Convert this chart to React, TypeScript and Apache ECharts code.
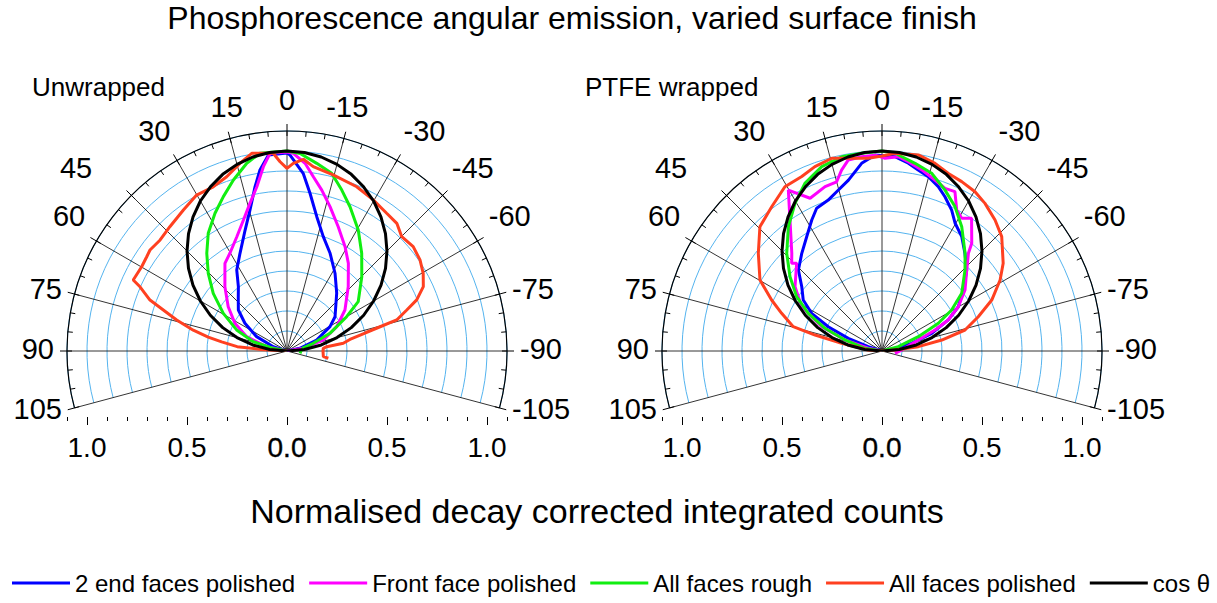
import React, { useEffect, useRef } from "react";
import * as echarts from "echarts";

const FONT = "'Liberation Sans', Arial, Helvetica, sans-serif";

// Angle axis ticks (degrees), radius range
const angleMin = -105;
const angleMax = 105;
const radiusMax = 1.1;

const seriesNames = [
  "2 end faces polished",
  "Front face polished",
  "All faces rough",
  "All faces polished",
  "cos θ",
];
const seriesColors = ["#0000ff", "#ff00ff", "#11ee11", "#ff4020", "#000000"];

// Each pair: [angle (deg), normalised counts]
const cosTheta: [number, number][] = [
  [90, 0], [85, 0.087], [80, 0.174], [75, 0.259], [70, 0.342], [65, 0.423], [60, 0.5],
  [55, 0.574], [50, 0.643], [45, 0.707], [40, 0.766], [35, 0.819], [30, 0.866],
  [25, 0.906], [20, 0.94], [15, 0.966], [10, 0.985], [5, 0.996], [0, 1],
  [-5, 0.996], [-10, 0.985], [-15, 0.966], [-20, 0.94], [-25, 0.906], [-30, 0.866],
  [-35, 0.819], [-40, 0.766], [-45, 0.707], [-50, 0.643], [-55, 0.574], [-60, 0.5],
  [-65, 0.423], [-70, 0.342], [-75, 0.259], [-80, 0.174], [-85, 0.087], [-90, 0],
];

// ---- Unwrapped ----
const unwrappedEndFaces: [number, number][] = [
  [90, 0], [72.6, 0.072], [64.7, 0.168], [56.6, 0.252], [49.9, 0.318], [42.6, 0.36],
  [37.1, 0.403], [31.8, 0.477], [25.7, 0.542], [19.1, 0.64], [14.7, 0.729], [11, 0.837],
  [8.5, 0.915], [5.4, 0.984], [0, 0.99], [-0.9, 0.98], [-5.2, 0.892], [-8.3, 0.797],
  [-12.5, 0.688], [-17.6, 0.6], [-23.8, 0.534], [-31.7, 0.457], [-40.7, 0.381],
  [-54.5, 0.295], [-60.5, 0.247], [-69.7, 0.158], [-78, 0.066], [-90, 0],
];
const unwrappedFrontFace: [number, number][] = [
  [90, 0], [78, 0.104], [70.5, 0.214], [62, 0.295], [53, 0.368], [44, 0.447],
  [35.3, 0.537], [30.3, 0.566], [23.7, 0.624], [18.4, 0.69], [14.1, 0.761],
  [10.4, 0.835], [7.3, 0.929], [4.9, 0.992], [0, 0.995], [-1.8, 0.989], [-5.5, 0.943],
  [-8.6, 0.881], [-12.2, 0.823], [-16.6, 0.753], [-22.4, 0.672], [-29.1, 0.597],
  [-35, 0.535], [-43.6, 0.444], [-54.7, 0.355], [-63.9, 0.277], [-73.1, 0.19],
  [-80.6, 0.083], [-90, 0],
];
const unwrappedRough: [number, number][] = [
  [90, 0], [79, 0.07], [74.6, 0.175], [67.3, 0.273], [59.4, 0.37], [52, 0.468],
  [45.4, 0.553], [39.4, 0.632], [33.8, 0.708], [27.6, 0.777], [22.4, 0.835],
  [17.4, 0.896], [12.1, 0.96], [7.8, 0.998], [0, 1.0], [-3.8, 0.99], [-9, 0.95],
  [-14.1, 0.916], [-18.8, 0.85], [-23.6, 0.787], [-30.5, 0.702], [-37.4, 0.615],
  [-45.2, 0.527], [-55.3, 0.433], [-60.1, 0.344], [-67.6, 0.232], [-73.7, 0.137],
  [-80, 0.08], [-90, 0.07], [-100, 0.066],
];
const unwrappedPolished: [number, number][] = [
  [90, 0], [86.5, 0.13], [85, 0.25], [82, 0.33], [80, 0.4], [77.5, 0.48], [74.3, 0.573],
  [69.6, 0.731], [66.4, 0.802], [65.2, 0.847], [59.9, 0.84], [56.1, 0.845],
  [53.6, 0.851], [48.8, 0.843], [43.3, 0.854], [36.3, 0.875], [30.1, 0.901],
  [24.2, 0.9], [19.1, 0.922], [14.1, 0.967], [10.1, 1.004], [4, 0.991], [2.1, 0.947],
  [0, 0.913], [-1.9, 0.939], [-4.9, 0.962], [-8.1, 0.931], [-14.7, 0.91], [-23, 0.892],
  [-29.7, 0.87], [-35.9, 0.85], [-40.7, 0.842], [-45.1, 0.81], [-50.4, 0.819],
  [-55.6, 0.806], [-60.3, 0.784], [-64.7, 0.754], [-68.5, 0.697], [-71.1, 0.633],
  [-74.2, 0.57], [-75.4, 0.481], [-77, 0.4], [-79.6, 0.32], [-82.2, 0.284],
  [-83.8, 0.2], [-85.7, 0.182], [-90, 0.18], [-98.9, 0.184], [-100, 0.21],
];

// ---- PTFE wrapped ----
const wrappedEndFaces: [number, number][] = [
  [90, 0], [72.6, 0.072], [69.4, 0.18], [65.7, 0.295], [61.8, 0.399], [57.1, 0.469],
  [51.3, 0.514], [45.9, 0.582], [39.4, 0.632], [33.4, 0.684], [28.2, 0.743],
  [24.6, 0.785], [19.6, 0.801], [15.9, 0.828], [11.1, 0.871], [6.2, 0.944], [2, 0.981],
  [-3.8, 0.974], [-8, 0.948], [-11.3, 0.923], [-14.9, 0.902], [-18.9, 0.869],
  [-22.2, 0.833], [-26.3, 0.786], [-29.8, 0.736], [-34.9, 0.697], [-40.3, 0.641],
  [-46.3, 0.586], [-53.1, 0.508], [-59.9, 0.441], [-64.9, 0.366], [-70.4, 0.264],
  [-75.5, 0.153], [-84, 0.049], [-90, 0],
];
const wrappedFrontFace: [number, number][] = [
  [90, 0], [78.8, 0.07], [73.4, 0.193], [68, 0.325], [61.1, 0.459], [53.5, 0.541],
  [44.2, 0.612], [45.8, 0.63], [42.7, 0.665], [35.1, 0.8], [30.2, 0.931], [25.2, 0.844],
  [19.1, 0.87], [15, 0.876], [12.6, 0.927], [10, 0.97], [6, 0.977], [2, 0.98],
  [-0.9, 0.964], [-4.8, 0.975], [-7.9, 0.956], [-12.4, 0.927], [-17.2, 0.895],
  [-21.2, 0.872], [-24.6, 0.876], [-27.9, 0.798], [-31, 0.774], [-34, 0.801],
  [-39.8, 0.701], [-41.5, 0.652], [-46.3, 0.586], [-53.7, 0.515], [-59.9, 0.441],
  [-64.9, 0.366], [-68.4, 0.285], [-73.1, 0.19], [-87, 0.099], [-100, 0.066],
];
const wrappedRough: [number, number][] = [
  [90, 0], [81, 0.086], [73.4, 0.193], [68.3, 0.307], [62.9, 0.414], [57.5, 0.506],
  [51.1, 0.591], [44.3, 0.682], [37, 0.778], [30.5, 0.857], [24.7, 0.923], [18.1, 0.97],
  [11.7, 0.992], [5.9, 0.994], [0, 1.0], [-3.8, 0.991], [-10, 0.953], [-15.6, 0.923],
  [-21.4, 0.864], [-26.8, 0.809], [-32.7, 0.738], [-40.4, 0.641], [-45.7, 0.58],
  [-54.1, 0.492], [-59.5, 0.404], [-63.8, 0.314], [-68.5, 0.195], [-75.2, 0.084],
  [-90, 0],
];
const wrappedPolished: [number, number][] = [
  [90, 0], [85.8, 0.069], [79.2, 0.205], [76.6, 0.344], [74.7, 0.46], [69.4, 0.536],
  [65.2, 0.608], [59.8, 0.706], [51.7, 0.788], [44.5, 0.871], [37.4, 0.908],
  [30.6, 0.954], [24.7, 0.96], [20, 0.981], [14.6, 0.996], [4.1, 0.966], [0, 0.975],
  [-3.8, 0.991], [-10.5, 0.997], [-15.8, 0.975], [-20.5, 0.948], [-25.2, 0.936],
  [-30.3, 0.922], [-34.9, 0.9], [-40.8, 0.865], [-46.3, 0.828], [-54.1, 0.748],
  [-59, 0.689], [-65.1, 0.605], [-70.4, 0.511], [-75.8, 0.428], [-79.6, 0.304],
  [-83.2, 0.183], [-85.6, 0.065], [-90, 0],
];

const panelTitles = ["Unwrapped", "PTFE wrapped"];
const panelData = [
  [unwrappedEndFaces, unwrappedFrontFace, unwrappedRough, unwrappedPolished, cosTheta],
  [wrappedEndFaces, wrappedFrontFace, wrappedRough, wrappedPolished, cosTheta],
];

export default function App() {
  const ref = useRef<HTMLDivElement>(null);
  useEffect(() => {
    if (!ref.current) return;
    const chart = echarts.init(ref.current, undefined, { renderer: "svg" });
    const centers = [
      [287, 351],
      [882, 351],
    ];
    const R = 220;

    const polar: any[] = [];
    const angleAxis: any[] = [];
    const radiusAxis: any[] = [];
    const grid: any[] = [];
    const xAxis: any[] = [];
    const yAxis: any[] = [];
    const series: any[] = [];

    const labelBase = { fontSize: 29, fontFamily: FONT, color: "#000" };

    centers.forEach((c, p) => {
      // main polar
      polar.push({ center: [c[0], c[1]], radius: R });
      angleAxis.push({
        polarIndex: polar.length - 1,
        type: "value",
        min: angleMin,
        max: angleMax,
        interval: 15,
        startAngle: -15,
        endAngle: 195,
        clockwise: false,
        axisLine: { show: true, lineStyle: { color: "#000", width: 1.2 } },
        axisTick: { show: true, inside: false, length: 7, lineStyle: { color: "#000", width: 1 } },
        axisLabel: {
          show: true,
          fontSize: 29,
          color: "#000",
          margin: 13,
          fontFamily: FONT,
          formatter: (v: number) => (v === 45 ? `{s|${v}}` : `{a|${v}}`),
          rich: {
            a: { ...labelBase, padding: [0, 0, 4, 0] },
            s: { ...labelBase, padding: [0, 30, 4, 0] },
          },
        },
        splitLine: { show: true, lineStyle: { color: "#000", width: 0.8 } },
        z: 1,
      });
      radiusAxis.push({
        polarIndex: polar.length - 1,
        type: "value",
        min: 0,
        max: radiusMax,
        interval: 0.1,
        axisLine: { show: false },
        axisTick: { show: false },
        axisLabel: { show: false },
        splitLine: { show: true, lineStyle: { color: "#55b4ef", width: 1 } },
      });
      const mainIdx = polar.length - 1;
      // minor tick polar
      polar.push({ center: [c[0], c[1]], radius: R });
      angleAxis.push({
        polarIndex: polar.length - 1,
        type: "value",
        min: angleMin,
        max: angleMax,
        interval: 5,
        startAngle: -15,
        endAngle: 195,
        clockwise: false,
        axisLine: { show: false },
        axisTick: { show: true, inside: true, length: 5, lineStyle: { color: "#000", width: 1 } },
        axisLabel: { show: false },
        splitLine: { show: false },
      });
      radiusAxis.push({
        polarIndex: polar.length - 1,
        type: "value",
        min: 0,
        max: radiusMax,
        show: false,
      });

      // bottom linear axis: minor ticks
      grid.push({ left: c[0] - R, width: 2 * R, top: 380, height: 37 });
      xAxis.push({
        gridIndex: grid.length - 1,
        type: "value",
        min: -1.1,
        max: 1.1,
        interval: 0.1,
        axisLine: { show: false },
        axisTick: { show: true, length: 4, lineStyle: { color: "#000" } },
        axisLabel: { show: false },
        splitLine: { show: false },
      });
      yAxis.push({ gridIndex: grid.length - 1, type: "value", show: false });
      // bottom linear axis: major ticks + labels
      grid.push({ left: c[0] - 200, width: 400, top: 380, height: 37 });
      xAxis.push({
        gridIndex: grid.length - 1,
        type: "value",
        min: -1,
        max: 1,
        interval: 0.5,
        axisLine: { show: false },
        axisTick: { show: true, length: 8, lineStyle: { color: "#000" } },
        axisLabel: {
          show: true,
          fontSize: 28,
          color: "#000",
          margin: 16,
          fontFamily: FONT,
          formatter: (v: number) =>
            Math.abs(v) < 1e-9 ? `{b|${Math.abs(v).toFixed(1)}}` : Math.abs(v).toFixed(1),
          rich: {
            b: {
              fontSize: 28,
              fontFamily: FONT,
              color: "#000",
              textBorderColor: "#000",
              textBorderWidth: 0.35,
            },
          },
        },
        splitLine: { show: false },
      });
      yAxis.push({ gridIndex: grid.length - 1, type: "value", show: false });

      panelData[p].forEach((d, i) => {
        series.push({
          name: seriesNames[i],
          type: "line",
          coordinateSystem: "polar",
          polarIndex: mainIdx,
          showSymbol: false,
          symbol: "none",
          smooth: false,
          color: seriesColors[i],
          lineStyle: { color: seriesColors[i], width: 3 },
          data: d.map(([a, r]) => [r, a]),
          z: 3,
        });
      });
    });

    chart.setOption({
      animation: false,
      textStyle: { fontFamily: FONT },
      polar,
      angleAxis,
      radiusAxis,
      grid,
      xAxis,
      yAxis,
      legend: {
        left: 12,
        top: 571,
        padding: 0,
        width: 1205,
        icon: "rect",
        itemWidth: 58,
        itemHeight: 3,
        itemGap: 14,
        textStyle: { fontSize: 24, color: "#000", fontFamily: FONT },
        data: seriesNames,
      },
      graphic: [
        {
          type: "text",
          x: 572,
          y: 18,
          style: {
            text: "Phosphorescence angular emission, varied surface finish",
            fontSize: 32,
            fontFamily: FONT,
            fill: "#000",
            textAlign: "center",
            textVerticalAlign: "middle",
          },
        },
        {
          type: "text",
          x: 32,
          y: 87,
          style: {
            text: panelTitles[0],
            fontSize: 26,
            fontFamily: FONT,
            fill: "#000",
            textAlign: "left",
            textVerticalAlign: "middle",
          },
        },
        {
          type: "text",
          x: 585,
          y: 87,
          style: {
            text: panelTitles[1],
            fontSize: 26,
            fontFamily: FONT,
            fill: "#000",
            textAlign: "left",
            textVerticalAlign: "middle",
          },
        },
        {
          type: "text",
          x: 597,
          y: 511,
          style: {
            text: "Normalised decay corrected integrated counts",
            fontSize: 34,
            fontFamily: FONT,
            fill: "#000",
            textAlign: "center",
            textVerticalAlign: "middle",
          },
        },
      ],
      series,
    });
    return () => chart.dispose();
  }, []);
  return (
    <div
      ref={ref}
      style={{ position: "absolute", left: 0, top: 0, width: 1217, height: 603 }}
    />
  );
}
